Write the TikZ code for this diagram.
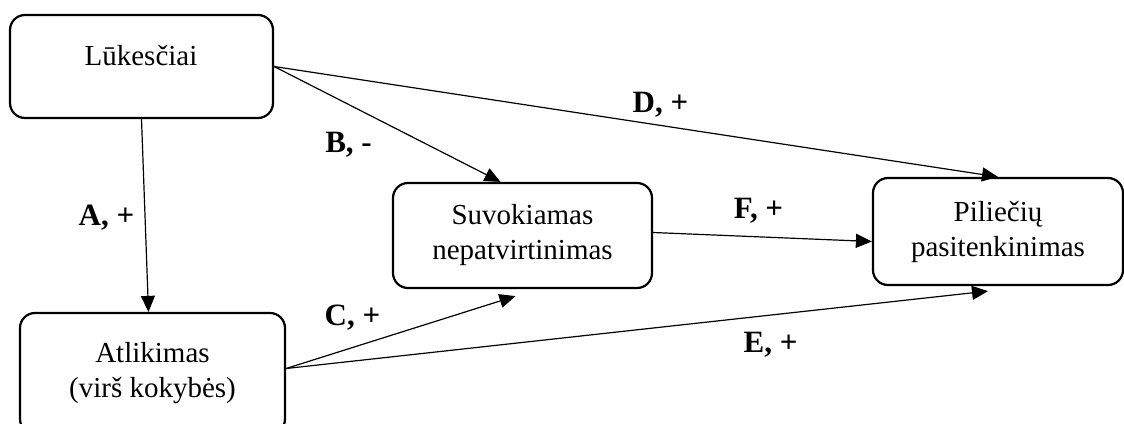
\documentclass[tikz,border=0pt]{standalone}
\usepackage{fontspec}
\setmainfont{Liberation Serif}
\usetikzlibrary{arrows.meta}
\begin{document}
\begin{tikzpicture}[x=1pt,y=-1pt,
  box/.style={draw, line width=2.2pt, rounded corners=15pt, inner sep=0pt,
              align=center, font=\fontsize{29}{35}\selectfont},
  txt/.style={font=\fontsize{29}{35}\selectfont, inner sep=0pt},
  lab/.style={font=\fontsize{31}{36}\selectfont\bfseries, inner sep=0pt, anchor=base},
  arr/.style={-{Triangle[length=16pt,width=14pt]}, line width=1.2pt}]
\path[use as bounding box, clip] (0,0) rectangle (1124,423);
% boxes
\node[box, minimum width=263pt, minimum height=103pt] (L) at (141.5,66.5) {};
\node[txt, anchor=base] (Lt) at (141,65) {Lūkesčiai};
\node[box, minimum width=259pt, minimum height=105pt] (S) at (522.5,235.5) {Suvokiamas\\nepatvirtinimas};
\node[box, minimum width=250pt, minimum height=107pt] (P) at (998,231.5) {Piliečių\\pasitenkinimas};
\node[box, minimum width=265pt, minimum height=121pt] (At) at (152.5,373.5) {Atlikimas\\(virš kokybės)};
% connectors
\draw[arr] (L.south) -- ([xshift=-4pt]At.north);
\draw[arr] (L.east) -- ([xshift=-22pt]S.north);
\draw[arr] (L.east) -- (P.north);
\draw[arr] ([yshift=3pt]S.east) -- ([yshift=-10pt]P.west);
\draw[arr] ([yshift=5pt]At.east) -- ([xshift=-7pt,yshift=-7pt]S.south);
\draw[arr] ([yshift=5pt]At.east) -- ([xshift=-10pt,yshift=-5pt]P.south);
% labels
\node[lab] (la) at (106.5,225) {A, +};
\node[lab] (lb) at (348.5,152) {B, -};
\node[lab] (lc) at (352.5,325) {C, +};
\node[lab] (ld) at (660.5,112) {D, +};
\node[lab] (lf) at (758.5,218) {F, +};
\node[lab] (le) at (770.5,352) {E, +};
\end{tikzpicture}
\end{document}
